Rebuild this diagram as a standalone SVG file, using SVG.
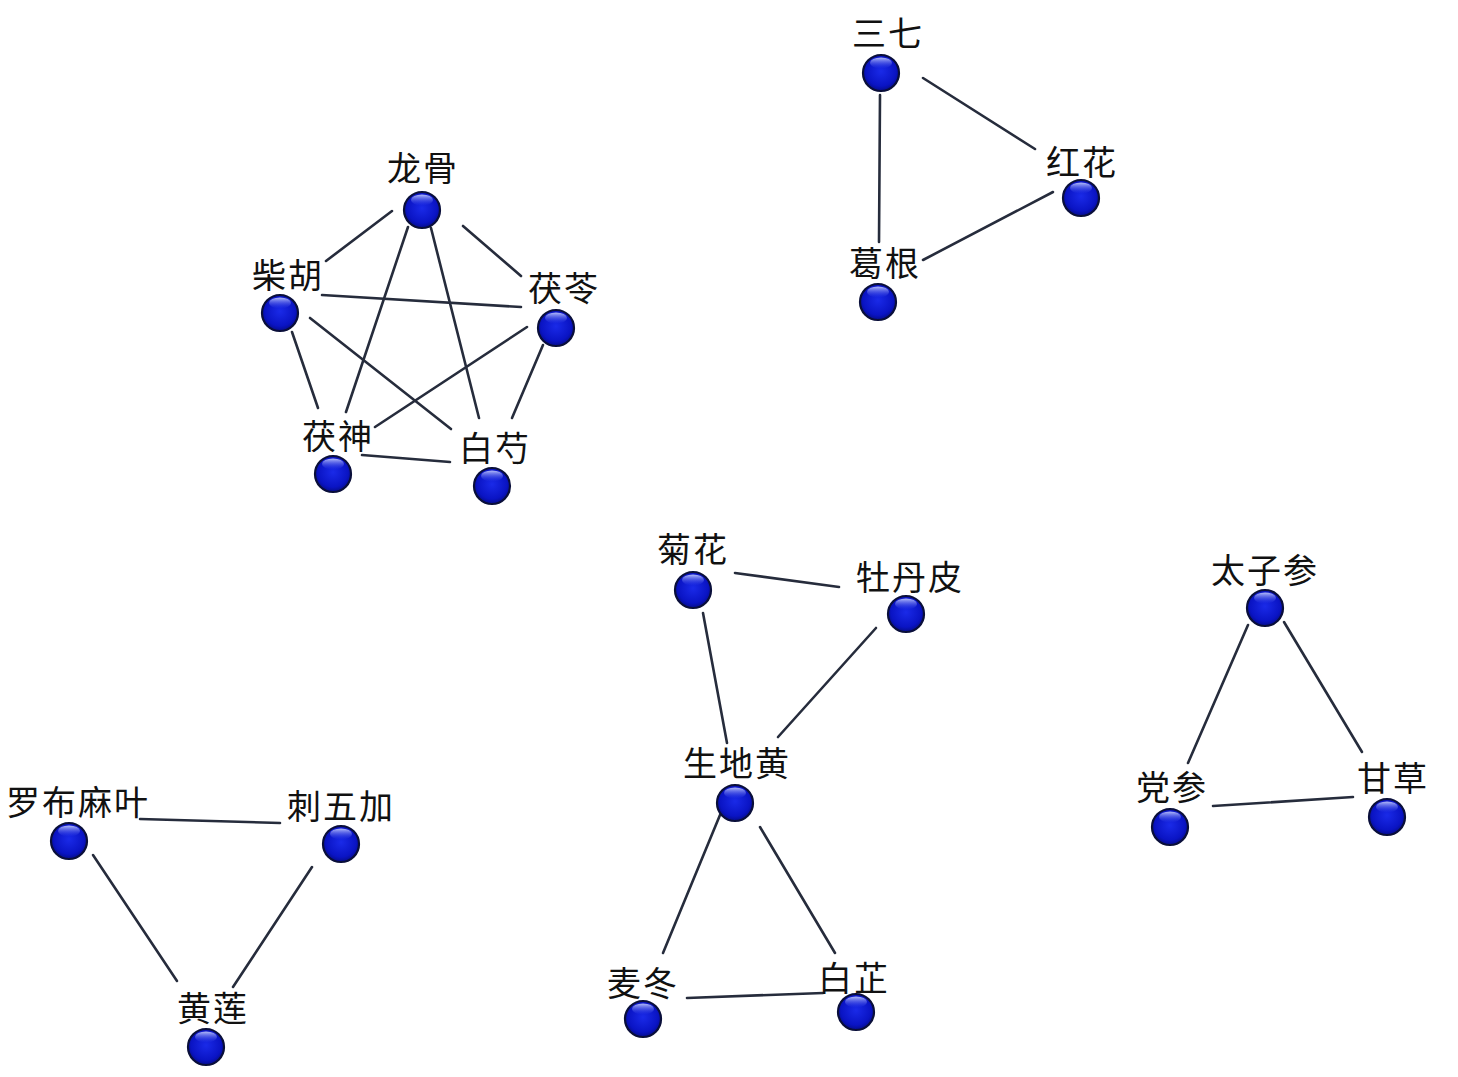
<svg xmlns="http://www.w3.org/2000/svg" width="1458" height="1077" viewBox="0 0 1458 1077">
<defs>
<radialGradient id="ball" cx="50%" cy="45%" r="55%">
<stop offset="0" stop-color="#1a2ae8"/>
<stop offset="0.75" stop-color="#0a14c4"/>
<stop offset="1" stop-color="#050c8a"/>
</radialGradient>
<linearGradient id="hl" x1="0" y1="0" x2="0" y2="1">
<stop offset="0" stop-color="#c8d0ff" stop-opacity="0.9"/>
<stop offset="1" stop-color="#4050f0" stop-opacity="0"/>
</linearGradient>
<g id="dot">
<circle r="18" fill="url(#ball)" stroke="#0a0f3a" stroke-width="2.2"/>
<ellipse cx="0" cy="-10" rx="11" ry="5.5" fill="url(#hl)"/>
</g>
</defs>
<style>
.lbl{font-family:"Liberation Serif","Noto Sans CJK SC",serif;font-size:34px;letter-spacing:2px;fill:#111;text-anchor:middle}
.edge{stroke:#262c3c;stroke-width:2.6;stroke-linecap:round;fill:none}
</style>
<rect width="1458" height="1077" fill="#ffffff"/>
<g id="connectors" class="edge">
<line x1="392" y1="211" x2="326" y2="261"/>
<line x1="463" y1="226" x2="521" y2="276"/>
<line x1="408" y1="227" x2="346" y2="412"/>
<line x1="431" y1="228" x2="479" y2="418"/>
<line x1="322" y1="295" x2="521" y2="307"/>
<line x1="292" y1="332" x2="318" y2="408"/>
<line x1="310" y1="318" x2="451" y2="429"/>
<line x1="527" y1="327" x2="375" y2="427"/>
<line x1="543" y1="345" x2="512" y2="418"/>
<line x1="362" y1="455" x2="450" y2="462"/>
<line x1="880" y1="95" x2="879" y2="242"/>
<line x1="923" y1="78" x2="1035" y2="149"/>
<line x1="1053" y1="192" x2="923" y2="260"/>
<line x1="735" y1="573" x2="839" y2="587"/>
<line x1="703" y1="613" x2="727" y2="743"/>
<line x1="876" y1="628" x2="778" y2="737"/>
<line x1="720" y1="815" x2="663" y2="953"/>
<line x1="760" y1="827" x2="835" y2="953"/>
<line x1="687" y1="998" x2="823" y2="993"/>
<line x1="1248" y1="625" x2="1188" y2="763"/>
<line x1="1284" y1="622" x2="1362" y2="752"/>
<line x1="1213" y1="806" x2="1353" y2="797"/>
<line x1="140" y1="819" x2="280" y2="823"/>
<line x1="93" y1="855" x2="177" y2="981"/>
<line x1="312" y1="867" x2="233" y2="987"/>
</g>
<g id="n-longgu"><use href="#dot" x="422" y="210"/><text class="lbl" x="423" y="181">龙骨</text></g>
<g id="n-chaihu"><use href="#dot" x="280" y="313"/><text class="lbl" x="288" y="288">柴胡</text></g>
<g id="n-fuling"><use href="#dot" x="556" y="328"/><text class="lbl" x="564" y="301">茯苓</text></g>
<g id="n-fushen"><use href="#dot" x="333" y="474"/><text class="lbl" x="338" y="449">茯神</text></g>
<g id="n-baishao"><use href="#dot" x="492" y="486"/><text class="lbl" x="495" y="461">白芍</text></g>
<g id="n-sanqi"><use href="#dot" x="881" y="73"/><text class="lbl" x="888" y="46">三七</text></g>
<g id="n-honghua"><use href="#dot" x="1081" y="198"/><text class="lbl" x="1082" y="175">红花</text></g>
<g id="n-gegen"><use href="#dot" x="878" y="302"/><text class="lbl" x="885" y="276">葛根</text></g>
<g id="n-juhua"><use href="#dot" x="693" y="590"/><text class="lbl" x="693" y="562">菊花</text></g>
<g id="n-mudanpi"><use href="#dot" x="906" y="614"/><text class="lbl" x="910" y="590">牡丹皮</text></g>
<g id="n-shengdihuang"><use href="#dot" x="735" y="803"/><text class="lbl" x="737" y="776">生地黄</text></g>
<g id="n-maidong"><use href="#dot" x="643" y="1019"/><text class="lbl" x="643" y="996">麦冬</text></g>
<g id="n-baizhi"><use href="#dot" x="856" y="1012"/><text class="lbl" x="854" y="991">白芷</text></g>
<g id="n-taizishen"><use href="#dot" x="1265" y="608"/><text class="lbl" x="1265" y="583">太子参</text></g>
<g id="n-dangshen"><use href="#dot" x="1170" y="827"/><text class="lbl" x="1172" y="800">党参</text></g>
<g id="n-gancao"><use href="#dot" x="1387" y="817"/><text class="lbl" x="1393" y="791">甘草</text></g>
<g id="n-luobumaye"><use href="#dot" x="69" y="841"/><text class="lbl" x="78" y="815">罗布麻叶</text></g>
<g id="n-ciwujia"><use href="#dot" x="341" y="844"/><text class="lbl" x="341" y="819">刺五加</text></g>
<g id="n-huanglian"><use href="#dot" x="206" y="1047"/><text class="lbl" x="213" y="1021">黄莲</text></g>
</svg>
